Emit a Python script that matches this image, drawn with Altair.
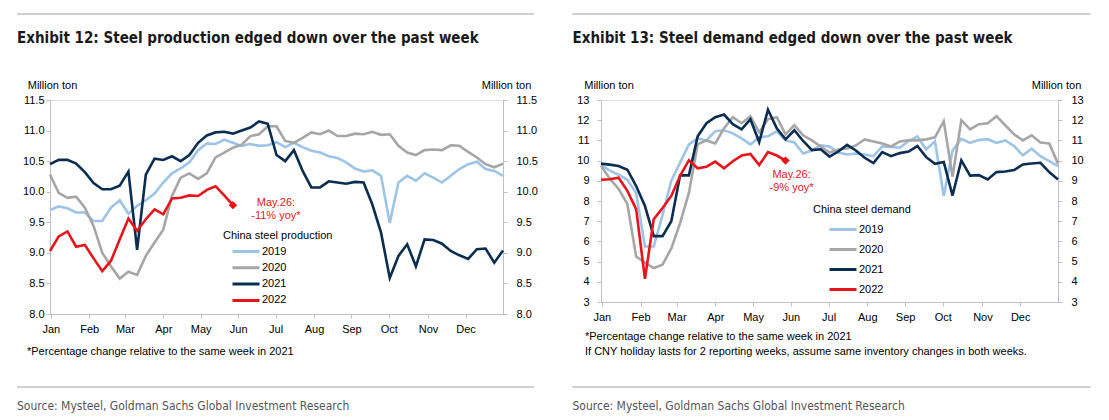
import altair as alt
import pandas as pd

FONT = "Liberation Sans, Arial, sans-serif"
NARROW = "DejaVu Sans Condensed, Liberation Sans Narrow, sans-serif"

years = ["2019", "2020", "2021", "2022"]
colors = ["#9DC3E6", "#A6A6A6", "#0B2D52", "#E8141B"]

month_names = ["Jan", "Feb", "Mar", "Apr", "May", "Jun", "Jul", "Aug", "Sep", "Oct", "Nov", "Dec"]
month_ticks = [0.1, 4.5, 8.6, 13.0, 17.3, 21.6, 25.9, 30.3, 34.6, 38.9, 43.4, 47.7]

# ---- Exhibit 12: steel production (million ton, weekly) ----
prod_2019 = [9.70, 9.76, 9.73, 9.66, 9.66, 9.52, 9.52, 9.74, 9.86, 9.64, 9.77, 9.86, 9.97, 10.15,
             10.30, 10.38, 10.48, 10.68, 10.79, 10.78, 10.85, 10.80, 10.75, 10.78, 10.75, 10.76,
             10.81, 10.73, 10.80, 10.73, 10.67, 10.64, 10.58, 10.55, 10.48, 10.38, 10.33, 10.35,
             10.26, 9.49, 10.15, 10.26, 10.18, 10.30, 10.23, 10.15, 10.26, 10.37, 10.45, 10.49,
             10.37, 10.34, 10.26]
prod_2020 = [10.28, 9.98, 9.90, 9.92, 9.74, 9.44, 9.00, 8.78, 8.58, 8.69, 8.64, 8.95, 9.17, 9.38,
             9.93, 10.23, 10.30, 10.21, 10.30, 10.56, 10.64, 10.72, 10.77, 10.91, 10.94, 11.07,
             11.07, 10.83, 10.80, 10.88, 10.97, 10.94, 11.00, 10.91, 10.91, 10.95, 10.94, 10.98,
             10.93, 10.94, 10.75, 10.64, 10.60, 10.68, 10.69, 10.68, 10.76, 10.75, 10.65, 10.56,
             10.45, 10.40, 10.46]
prod_2021 = [10.45, 10.52, 10.52, 10.46, 10.32, 10.14, 10.04, 10.04, 10.10, 10.33, 9.05, 10.28,
             10.54, 10.52, 10.58, 10.50, 10.60, 10.80, 10.92, 10.97, 10.98, 10.95, 11.00, 11.05,
             11.15, 11.11, 10.60, 10.50, 10.68, 10.34, 10.07, 10.07, 10.17, 10.15, 10.13, 10.16,
             10.15, 9.79, 9.33, 8.59, 8.95, 9.14, 8.78, 9.22, 9.21, 9.15, 9.03, 8.96, 8.90, 9.06,
             9.07, 8.84, 9.04]
prod_2022 = [9.03, 9.27, 9.35, 9.10, 9.13, 8.91, 8.70, 8.87, 9.22, 9.56, 9.36, 9.55, 9.71, 9.63,
             9.89, 9.90, 9.94, 9.93, 10.03, 10.09, 9.94, 9.78]

# ---- Exhibit 13: steel demand (million ton, weekly) ----
dem_2019 = [9.80, 9.50, 9.30, 9.05, 8.40, 5.75, 5.75, 7.30, 9.00, 9.90, 10.80, 11.10, 11.00, 11.45,
            11.50, 11.35, 11.10, 10.80, 11.15, 11.20, 11.45, 11.00, 10.90, 10.35, 10.50, 10.75,
            10.70, 10.40, 10.30, 10.35, 10.30, 10.22, 10.70, 10.68, 10.64, 10.97, 11.20, 10.55,
            10.95, 8.25, 10.50, 11.08, 10.88, 11.02, 11.06, 10.88, 11.00, 10.72, 10.26, 10.59,
            10.22, 9.97, 9.73]
dem_2020 = [9.75, 9.10, 8.60, 7.85, 5.25, 4.95, 4.68, 4.85, 5.65, 6.90, 8.40, 10.80, 11.00, 10.85,
            11.60, 12.15, 11.85, 12.20, 11.40, 12.05, 12.15, 11.30, 11.75, 11.25, 11.00, 10.70,
            10.40, 10.55, 10.60, 10.75, 11.05, 10.95, 10.85, 10.70, 10.95, 11.00, 11.00, 11.05,
            11.15, 11.95, 9.20, 12.00, 11.55, 11.80, 11.85, 12.20, 11.75, 11.30, 11.00, 11.25,
            10.90, 10.85, 9.85]
dem_2021 = [9.85, 9.80, 9.73, 9.55, 8.74, 7.75, 6.26, 6.26, 7.00, 9.27, 9.27, 11.20, 11.85, 12.15,
            12.28, 11.80, 11.55, 12.05, 10.92, 12.52, 11.60, 11.05, 11.50, 10.97, 10.52, 10.56,
            10.20, 10.45, 10.78, 10.50, 10.14, 9.88, 10.42, 10.22, 10.37, 10.45, 10.72, 10.17,
            9.84, 9.93, 8.27, 10.01, 9.26, 9.28, 9.07, 9.43, 9.46, 9.53, 9.81, 9.86, 9.89, 9.43,
            9.07]
dem_2022 = [9.05, 9.08, 9.15, 8.50, 7.60, 4.15, 7.10, 7.65, 8.25, 9.25, 10.02, 9.62, 9.70, 9.95,
            9.62, 9.97, 10.25, 10.33, 9.78, 10.42, 10.25, 10.00]

prod_y_ticks = [8.0, 8.5, 9.0, 9.5, 10.0, 10.5, 11.0, 11.5]
dem_y_ticks = [3, 4, 5, 6, 7, 8, 9, 10, 11, 12, 13]

note_common = "*Percentage change relative to the same week in 2021"
note_cny = "If CNY holiday lasts for 2 reporting weeks, assume same inventory changes in both weeks."
source_txt = "Source: Mysteel, Goldman Sachs Global Investment Research"


def long_df(series_list):
    rows = []
    for yr, vals in zip(years, series_list):
        for i, v in enumerate(vals):
            rows.append({"year": yr, "week": i, "value": v})
    return pd.DataFrame(rows)


label_expr = "[" + ",".join("'%s'" % m for m in month_names) + "][indexof([" + \
    ",".join(str(t) for t in month_ticks) + "], datum.value)]"

GRAY = "#BFBFBF"


def one_row(**kw):
    return pd.DataFrame({k: [v] for k, v in kw.items()})


def text_mark(txt, x, y, size=11, color="#000000", font=FONT, weight="normal", align="left"):
    return alt.Chart(one_row(t=txt)).mark_text(
        align=align, baseline="middle", fontSize=size, font=font, fontWeight=weight, color=color
    ).encode(text="t:N", x=alt.value(x), y=alt.value(y))


def rule_mark(x0, x1, y):
    return alt.Chart(one_row(a=0)).mark_rule(color="#A0A0A0", strokeWidth=1).encode(
        x=alt.value(x0), x2=alt.value(x1), y=alt.value(y))


def panel(series, yticks, fmt, w, h, legend, title, notes, ann, rule_x0, rule_x1,
          mt_left, mt_right, left_pad, right_pad):
    df = long_df(series)
    ydom = [yticks[0], yticks[-1]]
    xenc = alt.X("week:Q", scale=alt.Scale(domain=[0, 52], nice=False, zero=False),
                 axis=alt.Axis(values=month_ticks, labelExpr=label_expr, title=None, grid=False,
                               domainColor=GRAY, tickColor=GRAY, tickSize=4, labelPadding=5,
                               labelFontSize=11, labelColor="#000000", labelFont=FONT,
                               labelFlush=False, labelOverlap=False))
    yscale = alt.Scale(domain=ydom, nice=False, zero=False)

    def yaxis(orient, pad):
        return alt.Axis(orient=orient, values=yticks, format=fmt, title=None, grid=False,
                        domainColor=GRAY, tickColor=GRAY, tickSize=4, labelPadding=pad,
                        labelFontSize=11, labelColor="#000000", labelFont=FONT)

    lines = alt.Chart(df).mark_line(strokeWidth=2.6).encode(
        x=xenc,
        y=alt.Y("value:Q", scale=yscale, axis=yaxis("left", left_pad)),
        color=alt.Color("year:N", scale=alt.Scale(domain=years, range=colors), legend=legend),
    )
    ghost = alt.Chart(df).mark_line(strokeOpacity=0).encode(
        x=xenc,
        y=alt.Y("value:Q", scale=yscale, axis=yaxis("right", right_pad)),
        detail="year:N",
    )
    last = df[df["year"] == "2022"].tail(1)
    marker = alt.Chart(last).mark_point(shape="diamond", filled=True, size=70, opacity=1,
                                        color=colors[3]).encode(
        x=xenc, y=alt.Y("value:Q", scale=yscale, axis=None))
    layers = [lines, ghost, marker]
    for txt, dx, dy in ann:
        layers.append(alt.Chart(last).mark_text(
            align="center", baseline="middle", fontSize=11, font=FONT, color=colors[3],
            dx=dx, dy=dy).encode(x=xenc, y=alt.Y("value:Q", scale=yscale, axis=None),
                                 text=alt.value(txt)))
    layers.append(rule_mark(rule_x0, rule_x1, -86))
    layers.append(text_mark(title, rule_x0, -62, size=15, font=NARROW, weight="bold",
                            color="#1A1A1A"))
    layers.append(text_mark("Million ton", mt_left, -14, align="center"))
    layers.append(text_mark("Million ton", mt_right, -14, align="center"))
    for txt, nx, ny in notes:
        layers.append(text_mark(txt, nx, ny, size=11))
    layers.append(rule_mark(rule_x0, rule_x1, 287))
    layers.append(text_mark(source_txt, rule_x0, 306, size=12, font=NARROW, color="#555555"))
    return alt.layer(*layers).resolve_axis(y="independent").properties(width=w, height=h)


leg_left = alt.Legend(title="China steel production", orient="none", legendX=173, legendY=130,
                      direction="vertical", symbolType="stroke", symbolStrokeWidth=3,
                      symbolSize=729, symbolOffset=8, clipHeight=12, rowPadding=4.3,
                      titlePadding=4.5, labelFontSize=11, titleFontSize=11,
                      titleFontWeight="normal", titleColor="#000000", labelColor="#000000",
                      labelFont=FONT, titleFont=FONT, labelOffset=1, padding=0)
leg_right = alt.Legend(title="China steel demand", orient="none", legendX=212, legendY=104,
                       direction="vertical", symbolType="stroke", symbolStrokeWidth=3,
                       symbolSize=729, symbolOffset=15, clipHeight=12, rowPadding=8,
                       titlePadding=8.5, labelFontSize=11, titleFontSize=11,
                       titleFontWeight="normal", titleColor="#000000", labelColor="#000000",
                       labelFont=FONT, titleFont=FONT, labelOffset=1, padding=0)

left = panel([prod_2019, prod_2020, prod_2021, prod_2022], prod_y_ticks, ".1f", 453, 214,
             leg_left, "Exhibit 12: Steel production edged down over the past week",
             [(note_common, -23, 252)],
             [("May.26:", 43, -2), ("-11% yoy*", 43, 11)],
             -33, 484, 2.5, 456.5, 2, 9)
right = panel([dem_2019, dem_2020, dem_2021, dem_2022], dem_y_ticks, "d", 457, 202,
              leg_right, "Exhibit 13: Steel demand edged down over the past week",
              [(note_common, -16, 237), (note_cny, -16, 251.5)],
              [("May.26:", 6, 14.5), ("-9% yoy*", 6, 27)],
              -28.5, 489.5, 8, 455.5, 8, 9)

chart = alt.hconcat(left, right, spacing=98, bounds="flush").resolve_scale(
    color="independent"
).properties(
    padding={"left": 8, "top": 5, "right": 5, "bottom": 5}
).configure_view(stroke=GRAY, strokeWidth=1).configure(font=FONT)

chart.save("out.html", embed_options={"renderer": "svg", "actions": False})
